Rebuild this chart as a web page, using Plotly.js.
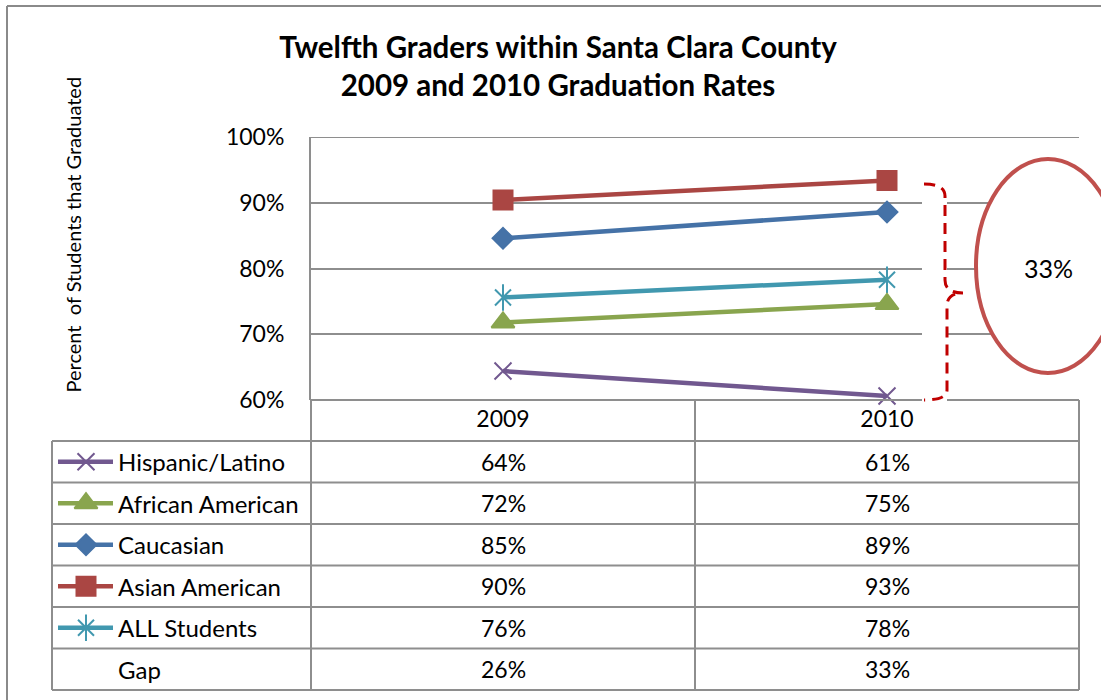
<!DOCTYPE html>
<html>
<head>
<meta charset="utf-8">
<script src="https://cdn.plot.ly/plotly-3.0.1.min.js"></script>
<style>html,body{margin:0;padding:0;background:#fff}#chart{width:1101px;height:700px}</style>
</head>
<body>
<div id="chart"></div>
<script>
// ---- data ----
const years = ['2009', '2010'];
const seriesNames = ['Hispanic/Latino', 'African American', 'Caucasian', 'Asian American', 'ALL Students'];
const hispanic = [0.644, 0.606];
const africanAmerican = [0.718, 0.746];
const caucasian = [0.846, 0.886];
const asianAmerican = [0.904, 0.934];
const allStudents = [0.756, 0.783];
const gapLabel = 'Gap';
const gap = [0.26, 0.33];
const yTicks = [0.6, 0.7, 0.8, 0.9, 1.0];
const titleText = 'Twelfth Graders within Santa Clara County<br>2009 and 2010 Graduation Rates';
const yTitleText = 'Percent  of Students that Graduated';

// ---- style ----
const W = 1101, H = 700;
const X = px => px / W;
const Y = py => 1 - py / H;
const FONT = 'Lato, "Open Sans", sans-serif';
const colors = ['#71588F', '#89A54E', '#4572A7', '#AA4643', '#4198AF'];
const symbols = ['x-thin-open', 'triangle-up', 'diamond', 'square', 'x-thin-open'];
const sizes = [17, 20, 16, 19, 16];
const values = [hispanic, africanAmerican, caucasian, asianAmerican, allStudents];

const plotL = 311, plotR = 1079, plotT = 137, plotB = 400;
const tableL = 52;
const rowEdges = [441, 482.5, 524, 565.5, 607, 648.5, 690];
const grey = '#8e8e8e';

const traces = [];
const drawOrder = [4, 0, 1, 2, 3];
drawOrder.forEach(i => {
  traces.push({
    x: [0, 1], y: values[i], type: 'scatter', mode: 'lines+markers',
    name: seriesNames[i], showlegend: false, xaxis: 'x', yaxis: 'y',
    line: {color: colors[i], width: 4.5},
    marker: {symbol: symbols[i], size: sizes[i], opacity: 1, color: colors[i], line: {color: colors[i], width: 2}},
    cliponaxis: false, hoverinfo: 'skip'
  });
  if (i === 4) {
    traces.push({
      x: [0, 1], y: values[i], type: 'scatter', mode: 'markers', showlegend: false,
      marker: {symbol: 'line-ns-open', size: 19, opacity: 1, color: colors[i], line: {color: colors[i], width: 2}},
      cliponaxis: false, hoverinfo: 'skip'
    });
  }
});
// legend keys in the data table (second subplot)
seriesNames.forEach((n, i) => {
  const r = i + 0.5;
  traces.push({
    x: [6, 34, 61], y: [r, r, r], type: 'scatter', mode: 'lines+markers', showlegend: false,
    xaxis: 'x2', yaxis: 'y2',
    line: {color: colors[i], width: 4.5},
    marker: {symbol: symbols[i], size: [0, sizes[i], 0], opacity: 1, color: colors[i], line: {color: colors[i], width: 2}},
    cliponaxis: false, hoverinfo: 'skip'
  });
  if (i === 4) {
    traces.push({
      x: [34], y: [r], type: 'scatter', mode: 'markers', showlegend: false, xaxis: 'x2', yaxis: 'y2',
      marker: {symbol: 'line-ns-open', size: 19, opacity: 1, color: colors[i], line: {color: colors[i], width: 2}},
      cliponaxis: false, hoverinfo: 'skip'
    });
  }
});

const shapes = [];
const line = (x0, y0, x1, y1, c, w) => shapes.push({type: 'line', xref: 'paper', yref: 'paper',
  x0: X(x0), y0: Y(y0), x1: X(x1), y1: Y(y1), line: {color: c || grey, width: w || 2}});
// outer chart border (top and left)
line(7, 6, 1110, 6, '#8a8a8a', 2);
line(7, 6, 7, 710, '#8a8a8a', 2);
// top gridline (100%) and plot bottom
shapes.push({type: 'line', xref: 'paper', yref: 'y', layer: 'below', x0: X(plotL), x1: X(plotR),
  y0: yTicks[yTicks.length - 1], y1: yTicks[yTicks.length - 1], line: {color: grey, width: 2}});
line(plotL, plotB, plotR, plotB);
// data table
line(plotL, plotB, plotL, rowEdges[6]);
line((plotL + plotR) / 2, plotB, (plotL + plotR) / 2, rowEdges[6]);
line(plotR, plotB, plotR, rowEdges[6]);
line(tableL, rowEdges[0], tableL, rowEdges[6]);
rowEdges.forEach(r => line(tableL, r, plotR, r));

// white patch behind bracket
shapes.push({type: 'rect', xref: 'paper', yref: 'paper', layer: 'above',
  x0: X(922), x1: X(947), y0: Y(180), y1: Y(403), fillcolor: '#fff', line: {width: 0}});
// bracket
const bp = `M${X(924)},${Y(184)} Q${X(945)},${Y(184)} ${X(945)},${Y(196)} L${X(945)},${Y(280)} Q${X(945)},${Y(293)} ${X(963)},${Y(293)} Q${X(947)},${Y(293)} ${X(947)},${Y(306)} L${X(947)},${Y(390)} Q${X(947)},${Y(400)} ${X(924)},${Y(400)}`;
shapes.push({type: 'path', xref: 'paper', yref: 'paper', layer: 'above', path: bp,
  line: {color: '#C00000', width: 3, dash: '11px,7px'}});
// ellipse
shapes.push({type: 'circle', xref: 'paper', yref: 'paper', layer: 'above',
  x0: X(976), x1: X(1120), y0: Y(159), y1: Y(373), fillcolor: '#fff',
  line: {color: '#C0504D', width: 4}});

const annotations = [];
const rowLabels = seriesNames.concat([gapLabel]);
const rowVals = values.concat([gap]);
rowLabels.forEach((lab, i) => {
  const yc = (rowEdges[i] + rowEdges[i + 1]) / 2;
  annotations.push({xref: 'paper', yref: 'paper', x: X(116), y: Y(yc), xanchor: 'left', yanchor: 'middle',
    text: lab, showarrow: false, font: {family: FONT, size: 24, color: '#000'}});
  years.forEach((yr, j) => {
    annotations.push({xref: 'x', yref: 'paper', x: j, y: Y(yc), xanchor: 'center', yanchor: 'middle',
      text: Math.round(rowVals[i][j] * 100) + '%', showarrow: false, font: {family: FONT, size: 23, color: '#000'}});
  });
});
annotations.push({xref: 'paper', yref: 'paper', x: X(1048), y: Y(268), xanchor: 'center', yanchor: 'middle',
  text: Math.round(gap[1] * 100) + '%', showarrow: false, font: {family: FONT, size: 25, color: '#000'}});
// y-axis title (placed off-centre as in the original)
annotations.push({xref: 'paper', yref: 'paper', x: X(73), y: Y(234.5), xanchor: 'center', yanchor: 'middle',
  text: yTitleText, textangle: -90, showarrow: false, font: {family: FONT, size: 20, color: '#000'}});

const layout = {
  width: W, height: H, margin: {l: 0, r: 0, t: 0, b: 0},
  paper_bgcolor: '#fff', plot_bgcolor: '#fff', showlegend: false,
  font: {family: FONT, color: '#000'},
  title: {text: '<b>' + titleText + '</b>',
    x: X(558), xanchor: 'center', y: Y(58), yanchor: 'middle', xref: 'paper', yref: 'paper',
    font: {family: FONT, size: 29.5, color: '#000'}},
  xaxis: {domain: [X(plotL), X(plotR)], type: 'linear', range: [-0.5, 1.5], anchor: 'y',
    tickvals: [0, 1], ticktext: years,
    showgrid: false, zeroline: false, showline: false, ticks: '',
    tickfont: {family: FONT, size: 23, color: '#000'}, ticklabelstandoff: 3, fixedrange: true},
  yaxis: {domain: [Y(plotB), Y(plotT)], range: [0.6, 1.0], anchor: 'x', tickvals: yTicks, tickformat: '.0%',
    showgrid: true, gridcolor: grey, gridwidth: 2, zeroline: false,
    showline: true, linecolor: grey, linewidth: 2, ticks: '',
    tickfont: {family: FONT, size: 23, color: '#000'}, ticklabelstandoff: 20, fixedrange: true,
    title: {text: ''}},
  xaxis2: {domain: [X(tableL), X(plotL)], range: [0, plotL - tableL], anchor: 'y2', visible: false, fixedrange: true},
  yaxis2: {domain: [Y(rowEdges[5]), Y(rowEdges[0])], range: [5, 0], anchor: 'x2', visible: false, fixedrange: true},
  shapes: shapes, annotations: annotations
};

Plotly.newPlot('chart', traces, layout, {displayModeBar: false, staticPlot: true});
</script>
</body>
</html>
